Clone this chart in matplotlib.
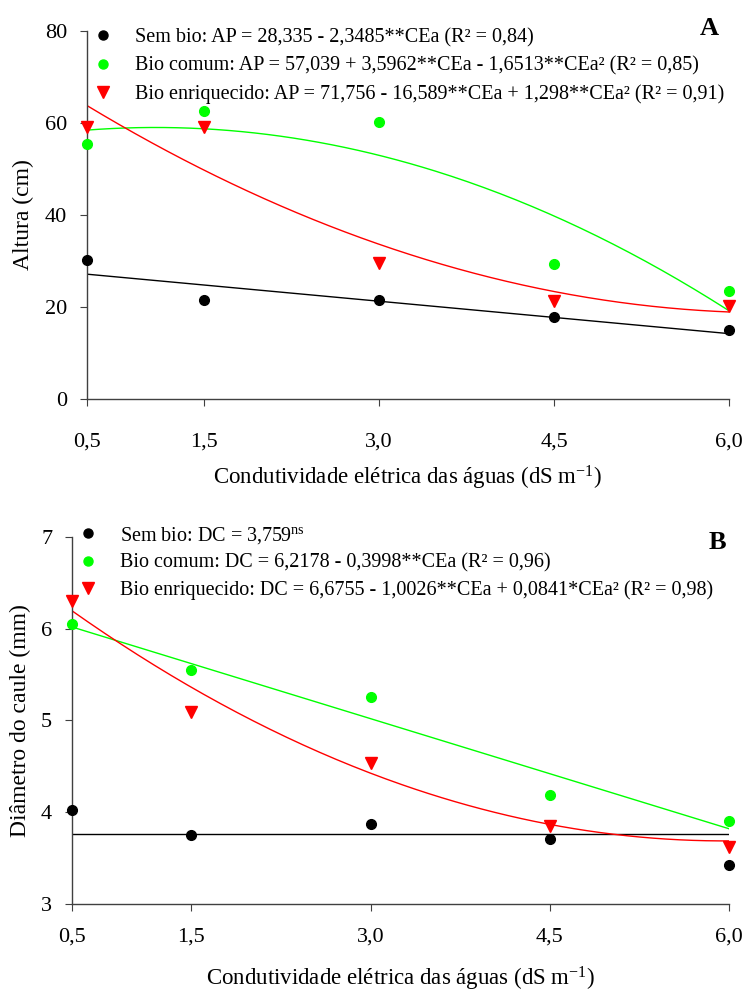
import numpy as np
import matplotlib
matplotlib.use("Agg")
import matplotlib.pyplot as plt
from matplotlib.ticker import FuncFormatter
from matplotlib.lines import Line2D

plt.rcParams["font.family"] = ["Liberation Serif", "DejaVu Serif"]
plt.rcParams["mathtext.fontset"] = "custom"
plt.rcParams["mathtext.rm"] = "Liberation Serif"
plt.rcParams["mathtext.it"] = "Liberation Serif:italic"

# data
cea = [0.5, 1.5, 3.0, 4.5, 6.0]

ap_sem = [30.3, 21.5, 21.6, 17.8, 15.1]
ap_comum = [55.4, 62.5, 60.1, 29.3, 23.6]
ap_enriq = [59.0, 59.2, 29.5, 21.4, 20.3]

dc_sem = [4.02, 3.75, 3.87, 3.71, 3.43]
dc_comum = [6.05, 5.55, 5.25, 4.19, 3.90]
dc_enriq = [6.30, 5.09, 4.54, 3.85, 3.62]

# regression coefficients (c0, c1, c2)
ap_fit_sem = (28.335, -2.3485, 0.0)
ap_fit_comum = (57.039, 3.5962, -1.6513)
ap_fit_enriq = (71.756, -16.589, 1.298)
dc_fit_sem = (3.759, 0.0, 0.0)
dc_fit_comum = (6.2178, -0.3998, 0.0)
dc_fit_enriq = (6.6755, -1.0026, 0.0841)

labels_a = ["Sem bio: AP = 28,335 - 2,3485**CEa (R² = 0,84)",
            "Bio comum: AP = 57,039 + 3,5962**CEa - 1,6513**CEa² (R² = 0,85)",
            "Bio enriquecido: AP = 71,756 - 16,589**CEa + 1,298**CEa² (R² = 0,91)"]
labels_b = [r"Sem bio: DC = 3,759$^{\mathrm{ns}}$",
            "Bio comum: DC = 6,2178 - 0,3998**CEa (R² = 0,96)",
            "Bio enriquecido: DC = 6,6755 - 1,0026**CEa + 0,0841*CEa² (R² = 0,98)"]

COLORS = ["black", "#00ff00", "#ff0000"]
MARKERS = ["o", "o", "v"]
SPINE = "#404040"

fig = plt.figure(figsize=(7.45, 9.94), dpi=100)
ax_a = fig.add_axes([0.1164, 0.5983, 0.8626, 0.3708])
ax_b = fig.add_axes([0.0962, 0.0905, 0.8827, 0.3696])

comma = FuncFormatter(lambda v, p: f"{v:.1f}".replace(".", ","))
xs = np.linspace(0.5, 6.0, 200)


def panel(ax, series, fits, labels, ylim, yticks, ylabel, letter, letter_xy,
          xpad, xlab_y, ylab_x, leg_anchor, leg_sp):
    for ys, fit, c, m in zip(series, fits, COLORS, MARKERS):
        ax.plot(xs, fit[0] + fit[1] * xs + fit[2] * xs ** 2, color=c, lw=1.0, zorder=2)
        ax.plot(cea, ys, ls="none", marker=m, color=c, ms=7 if m == "o" else 8,
                clip_on=False, zorder=3)
    ax.set_xlim(0.5, 6.0)
    ax.set_ylim(*ylim)
    ax.set_xticks(cea)
    ax.set_yticks(yticks)
    ax.xaxis.set_major_formatter(comma)
    for s in ["top", "right"]:
        ax.spines[s].set_visible(False)
    for s in ["left", "bottom"]:
        ax.spines[s].set_color(SPINE)
        ax.spines[s].set_linewidth(1.0)
    ax.tick_params(axis="both", direction="out", length=5, color=SPINE,
                   labelsize=16)
    ax.tick_params(axis="x", pad=xpad)
    ax.tick_params(axis="y", pad=9)
    ax.set_xlabel(r"Condutividade elétrica das águas (dS m$^{-1}$)", fontsize=16.5)
    ax.xaxis.set_label_coords(0.5, xlab_y)
    ax.xaxis.label.set_verticalalignment("center")
    ax.set_ylabel(ylabel, fontsize=17)
    ax.yaxis.set_label_coords(ylab_x, 0.5)
    ax.yaxis.label.set_verticalalignment("center")
    handles = [Line2D([], [], ls="none", marker=m, color=c, ms=6.5 if m == "o" else 8)
               for c, m in zip(COLORS, MARKERS)]
    ax.legend(handles, labels, loc="upper left", bbox_to_anchor=leg_anchor,
              frameon=False, fontsize=14.5, handlelength=0.8,
              handletextpad=1.2, labelspacing=leg_sp, borderpad=0, borderaxespad=0)
    ax.text(letter_xy[0], letter_xy[1], letter, transform=ax.transAxes,
            ha="right", va="center", fontsize=19, fontweight="bold")


panel(ax_a, [ap_sem, ap_comum, ap_enriq],
      [ap_fit_sem, ap_fit_comum, ap_fit_enriq], labels_a,
      (0, 80), [0, 20, 40, 60, 80], "Altura (cm)", "A", (0.983, 1.007),
      xpad=19, xlab_y=-0.213, ylab_x=-0.099, leg_anchor=(0.013, 1.007), leg_sp=0.45)
panel(ax_b, [dc_sem, dc_comum, dc_enriq],
      [dc_fit_sem, dc_fit_comum, dc_fit_enriq], labels_b,
      (3, 7), [3, 4, 5, 6, 7], "Diâmetro do caule (mm)", "B", (0.995, 0.984),
      xpad=12, xlab_y=-0.205, ylab_x=-0.0786, leg_anchor=(0.013, 1.032), leg_sp=0.38)

fig.savefig("out.png", dpi=100, facecolor="white")
